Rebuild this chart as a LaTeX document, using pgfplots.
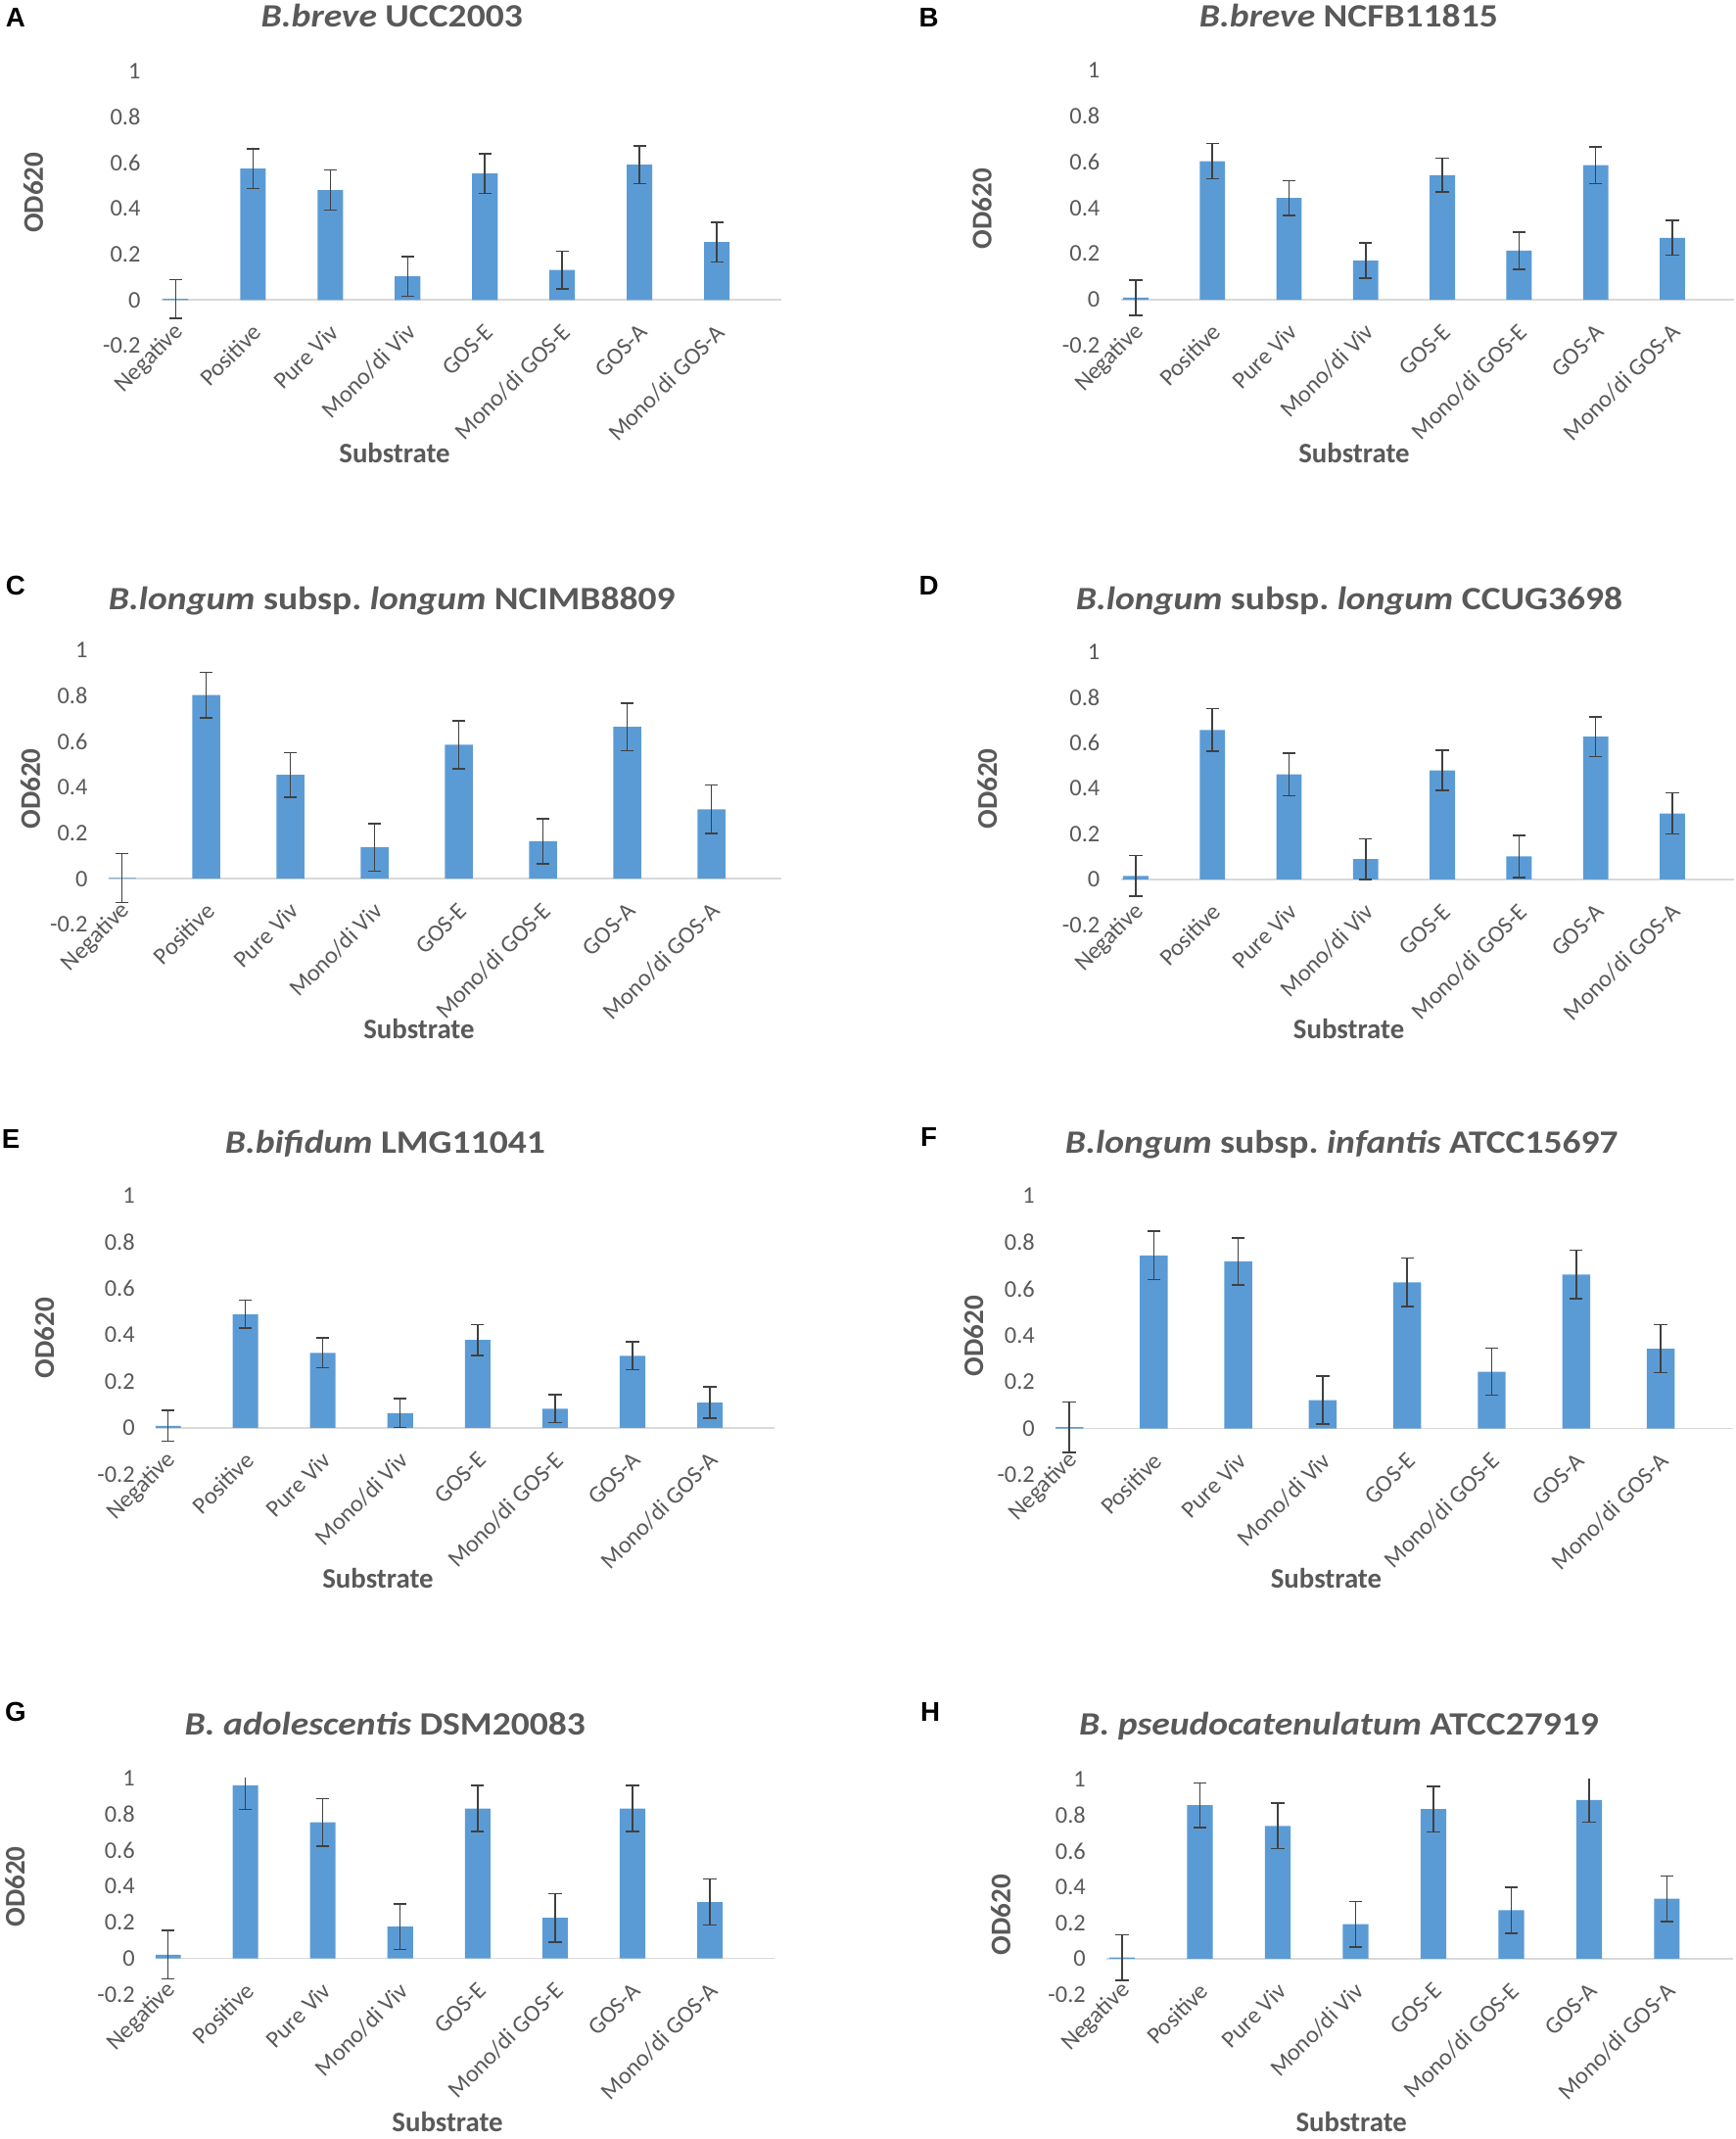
\documentclass[border=0pt]{standalone}
\usepackage{fontspec}
\setmainfont{Carlito}
\newfontfamily\arialfont{Liberation Sans}
\newfontfamily\ttlfont[FakeStretch=1.13]{Carlito}
\usepackage{pgfplots}
\pgfplotsset{compat=1.18}
\definecolor{barblue}{HTML}{5B9BD5}
\definecolor{txtgray}{HTML}{595959}
\definecolor{zerogray}{HTML}{D9D9D9}
\definecolor{errgray}{HTML}{404040}
\frenchspacing
\pgfplotsset{panel/.style={
  scale only axis, ybar, bar width=0.33, bar shift=0pt,
  ymin=-0.2, ymax=1,
  axis x line=middle, axis y line=left, axis line style={-},
  x axis line style={draw=zerogray, line width=0.6pt},
  y axis line style={draw=none},
  hide obscured x ticks=false, hide obscured y ticks=false,
  xtick={0,...,7},
  xticklabels={Negative,Positive,Pure Viv,Mono/di Viv,GOS-E,Mono/di GOS-E,GOS-A,Mono/di GOS-A},
  ytick={-0.2,0,0.2,0.4,0.6,0.8,1}, yticklabels={-0.2,0,0.2,0.4,0.6,0.8,1},
  major tick length=0pt,
  tick label style={font=\fontsize{8.8}{10}\selectfont, text=txtgray},
  xticklabel style={xshift=4pt, yshift=-8pt, rotate=45, anchor=east},
  yticklabel style={anchor=east, inner sep=0pt, xshift=-7.5pt},
  anchor=south west,
},
bars/.style={fill=barblue, draw=none,
  error bars/.cd, y dir=both, y explicit,
  error bar style={draw=errgray, line width=0.55pt},
  error mark options={rotate=90, draw=errgray, line width=0.55pt, mark size=2.4pt}}
}
\tikzset{
 letter/.style={font=\arialfont\bfseries\fontsize{10}{12}\selectfont, inner sep=0pt, anchor=center},
 ttl/.style={font=\ttlfont\bfseries\fontsize{12}{14}\selectfont, text=txtgray, inner sep=0pt, anchor=base},
 ylab/.style={font=\bfseries\fontsize{10.5}{12}\selectfont, text=txtgray, inner sep=0pt, rotate=90, anchor=center},
 xlab/.style={font=\bfseries\fontsize{10.4}{12}\selectfont, text=txtgray, inner sep=0pt, anchor=center},
}
\begin{document}
\begin{tikzpicture}
\path[use as bounding box] (0pt,0pt) rectangle (640pt,-788.5pt);

% A
\begin{axis}[panel, at={(59.5pt,-127.45pt)}, width=228.5pt, height=101.2pt, xmin=-0.184, xmax=7.83]
\addplot[bars] coordinates {(0,0.005) +- (0,0.085) (1,0.574) +- (0,0.087) (2,0.48) +- (0,0.088) (3,0.103) +- (0,0.087) (4,0.553) +- (0,0.087) (5,0.131) +- (0,0.082) (6,0.591) +- (0,0.082) (7,0.253) +- (0,0.087)};
\end{axis}
% B
\begin{axis}[panel, at={(413.25pt,-127.4pt)}, width=226pt, height=101.5pt, xmin=-0.195, xmax=7.80]
\addplot[bars] coordinates {(0,0.009) +- (0,0.077) (1,0.604) +- (0,0.076) (2,0.443) +- (0,0.076) (3,0.17) +- (0,0.077) (4,0.543) +- (0,0.074) (5,0.214) +- (0,0.081) (6,0.586) +- (0,0.081) (7,0.27) +- (0,0.076)};
\end{axis}
% C
\begin{axis}[panel, at={(40pt,-340.8pt)}, width=248.1pt, height=101.2pt, xmin=-0.161, xmax=7.83]
\addplot[bars] coordinates {(0,0.004) +- (0,0.107) (1,0.803) +- (0,0.1) (2,0.454) +- (0,0.097) (3,0.137) +- (0,0.104) (4,0.586) +- (0,0.105) (5,0.164) +- (0,0.099) (6,0.664) +- (0,0.104) (7,0.303) +- (0,0.106)};
\end{axis}
% D
\begin{axis}[panel, at={(413.25pt,-341pt)}, width=226pt, height=100.8pt, xmin=-0.195, xmax=7.80]
\addplot[bars] coordinates {(0,0.016) +- (0,0.09) (1,0.656) +- (0,0.093) (2,0.461) +- (0,0.093) (3,0.09) +- (0,0.089) (4,0.479) +- (0,0.088) (5,0.101) +- (0,0.092) (6,0.627) +- (0,0.087) (7,0.29) +- (0,0.091)};
\end{axis}
% E
\begin{axis}[panel, at={(57.4pt,-543.45pt)}, width=228.35pt, height=102.6pt, xmin=-0.158, xmax=7.84]
\addplot[bars] coordinates {(0,0.009) +- (0,0.066) (1,0.49) +- (0,0.06) (2,0.323) +- (0,0.064) (3,0.064) +- (0,0.062) (4,0.379) +- (0,0.066) (5,0.083) +- (0,0.06) (6,0.311) +- (0,0.06) (7,0.109) +- (0,0.067)};
\end{axis}
% F
\begin{axis}[panel, at={(389.25pt,-543.75pt)}, width=249.7pt, height=102.96pt, xmin=-0.162, xmax=7.855]
\addplot[bars] coordinates {(0,0.006) +- (0,0.108) (1,0.744) +- (0,0.104) (2,0.718) +- (0,0.101) (3,0.122) +- (0,0.103) (4,0.628) +- (0,0.104) (5,0.244) +- (0,0.101) (6,0.662) +- (0,0.104) (7,0.343) +- (0,0.103)};
\end{axis}
% G
\begin{axis}[panel, at={(57.4pt,-735.15pt)}, width=228.35pt, height=79.56pt, xmin=-0.158, xmax=7.84]
\addplot[bars] coordinates {(0,0.02) +- (0,0.135) (1,0.962) +- (0,0.133) (2,0.756) +- (0,0.131) (3,0.176) +- (0,0.127) (4,0.833) +- (0,0.127) (5,0.225) +- (0,0.135) (6,0.833) +- (0,0.127) (7,0.313) +- (0,0.127)};
\end{axis}
% H
\begin{axis}[panel, at={(408pt,-735.25pt)}, width=231pt, height=79.4pt, xmin=-0.2, xmax=7.85]
\addplot[bars] coordinates {(0,0.007) +- (0,0.127) (1,0.855) +- (0,0.125) (2,0.74) +- (0,0.127) (3,0.192) +- (0,0.127) (4,0.833) +- (0,0.127) (5,0.27) +- (0,0.129) (6,0.884) +- (0,0.124) (7,0.334) +- (0,0.127)};
\end{axis}

% panel letters
\node[letter] at (5.75pt,-6.65pt) {A};
\node[letter] at (342.5pt,-6.5pt) {B};
\node[letter] at (5.75pt,-216pt) {C};
\node[letter] at (342.5pt,-216pt) {D};
\node[letter] at (4pt,-419.7pt) {E};
\node[letter] at (342.5pt,-419pt) {F};
\node[letter] at (5.75pt,-631pt) {G};
\node[letter] at (343pt,-631pt) {H};

% titles
\node[ttl] at (144.5pt,-9.9pt) {{\itshape B.breve} UCC2003};
\node[ttl] at (497.25pt,-9.9pt) {{\itshape B.breve} NCFB11815};
\node[ttl] at (144.5pt,-224.6pt) {{\itshape B.longum} subsp. {\itshape longum} NCIMB8809};
\node[ttl] at (497.5pt,-224.6pt) {{\itshape B.longum} subsp. {\itshape longum} CCUG3698};
\node[ttl] at (142pt,-425.1pt) {{\itshape B.bifidum} LMG11041};
\node[ttl] at (494.75pt,-425.1pt) {{\itshape B.longum} subsp. {\itshape infantis} ATCC15697};
\node[ttl] at (142pt,-639.6pt) {{\itshape B. adolescentis} DSM20083};
\node[ttl] at (493.75pt,-639.6pt) {{\itshape B. pseudocatenulatum} ATCC27919};

% y labels
\node[ylab] at (12.3pt,-71pt) {OD620};
\node[ylab] at (362pt,-77pt) {OD620};
\node[ylab] at (11.25pt,-290.8pt) {OD620};
\node[ylab] at (364pt,-290.8pt) {OD620};
\node[ylab] at (16.4pt,-493.2pt) {OD620};
\node[ylab] at (359pt,-492.5pt) {OD620};
\node[ylab] at (5.5pt,-695.5pt) {OD620};
\node[ylab] at (369pt,-705.85pt) {OD620};

% x labels
\node[xlab] at (145.5pt,-166.85pt) {Substrate};
\node[xlab] at (499.3pt,-166.85pt) {Substrate};
\node[xlab] at (154.5pt,-379.4pt) {Substrate};
\node[xlab] at (497.35pt,-379.4pt) {Substrate};
\node[xlab] at (139.35pt,-581.75pt) {Substrate};
\node[xlab] at (489pt,-581.75pt) {Substrate};
\node[xlab] at (165pt,-782pt) {Substrate};
\node[xlab] at (498.3pt,-782pt) {Substrate};
\end{tikzpicture}
\end{document}
